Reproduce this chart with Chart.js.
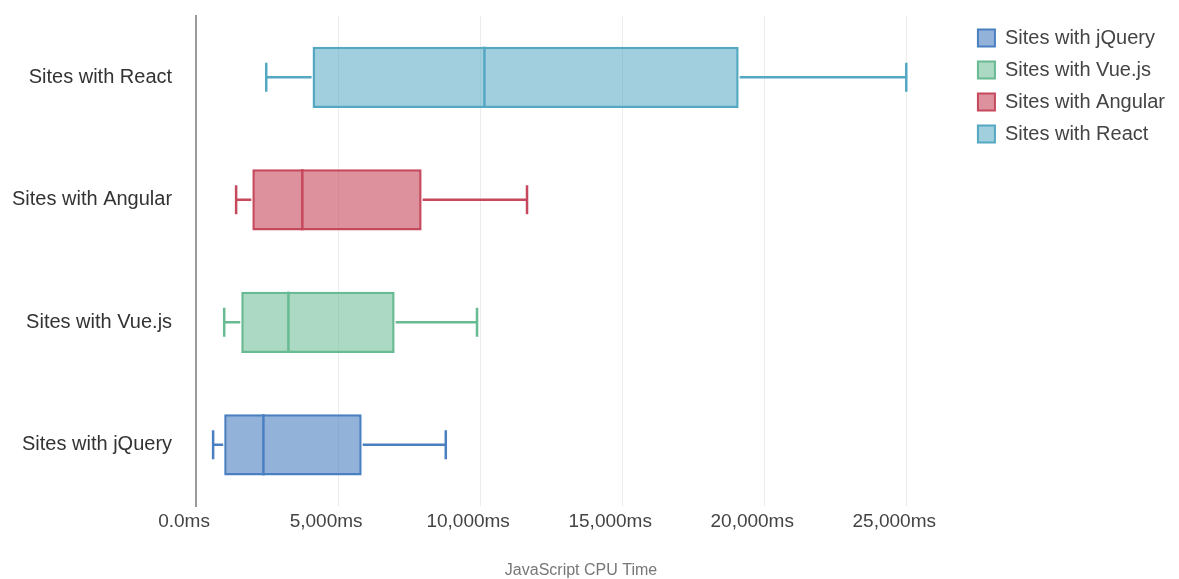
<!DOCTYPE html>
<html>
<head>
<meta charset="utf-8">
<script src="https://cdn.jsdelivr.net/npm/chart.js@4.4.1/dist/chart.umd.min.js"></script>
<style>
  html, body { margin: 0; padding: 0; background: #fff; }
  #wrap { width: 1179px; height: 579px; }
</style>
</head>
<body>
<div id="wrap"><canvas id="c"></canvas></div>
<script>
// Categories (top to bottom)
const categories = ['Sites with React', 'Sites with Angular', 'Sites with Vue.js', 'Sites with jQuery'];
// Series (legend order)
const seriesNames = ['Sites with jQuery', 'Sites with Vue.js', 'Sites with Angular', 'Sites with React'];
// Box statistics in ms: [min, q1, median, q3, max]
const jqueryStats  = [600, 990, 2370, 5830, 8790];
const vueStats     = [990, 1590, 3250, 6990, 9890];
const angularStats = [1410, 1980, 3740, 7940, 11650];
const reactStats   = [2470, 4100, 10150, 19100, 25000];
// X tick values
const xTickValues = [0, 5000, 10000, 15000, 20000, 25000];
const xTitle = 'JavaScript CPU Time';

const allStats = [jqueryStats, vueStats, angularStats, reactStats];
const borderColors = ['rgb(74,127,193)', 'rgb(104,186,146)', 'rgb(198,72,92)', 'rgb(84,168,194)'];
const fillColors = ['rgba(74,127,193,0.6)', 'rgba(104,186,146,0.55)', 'rgba(198,72,92,0.6)', 'rgba(84,168,194,0.55)'];

const datasets = seriesNames.map((name, i) => {
  const s = allStats[i];
  return {
    label: name,
    data: categories.map(c => c === name ? [s[1], s[3]] : null),
    stats: s,
    backgroundColor: fillColors[i],
    borderColor: borderColors[i],
    borderWidth: 2.5,
    borderSkipped: false,
    grouped: false,
    barPercentage: 0.5,
    categoryPercentage: 1.0
  };
});

const boxPlugin = {
  id: 'boxExtras',
  afterDatasetsDraw(chart) {
    const ctx = chart.ctx;
    const xs = chart.scales.x;
    chart.data.datasets.forEach((ds, di) => {
      const meta = chart.getDatasetMeta(di);
      meta.data.forEach((el, idx) => {
        if (ds.data[idx] == null) return;
        const s = ds.stats;
        const props = el.getProps(['x', 'y', 'base', 'height'], true);
        const yc = props.y;
        const h = props.height;
        const pMin = xs.getPixelForValue(s[0]);
        const pQ1 = xs.getPixelForValue(s[1]);
        const pMed = xs.getPixelForValue(s[2]);
        const pQ3 = xs.getPixelForValue(s[3]);
        const pMax = xs.getPixelForValue(s[4]);
        ctx.save();
        ctx.strokeStyle = ds.borderColor;
        ctx.lineCap = 'butt';
        ctx.lineWidth = 2.5;
        ctx.beginPath();
        ctx.moveTo(pMed, yc - h / 2);
        ctx.lineTo(pMed, yc + h / 2);
        ctx.stroke();
        ctx.lineWidth = 2.5;
        ctx.beginPath();
        ctx.moveTo(pMin, yc); ctx.lineTo(pQ1 - 1, yc);
        ctx.moveTo(pQ3 + 1, yc); ctx.lineTo(pMax, yc);
        ctx.stroke();
        const capH = h * 0.47;
        ctx.lineWidth = 2.5;
        ctx.beginPath();
        ctx.moveTo(pMin, yc - capH / 2); ctx.lineTo(pMin, yc + capH / 2);
        ctx.moveTo(pMax, yc - capH / 2); ctx.lineTo(pMax, yc + capH / 2);
        ctx.stroke();
        ctx.restore();
      });
    });
  }
};

const FONT = "'Liberation Sans', Arial, Helvetica, sans-serif";

new Chart(document.getElementById('c'), {
  type: 'bar',
  data: { labels: categories, datasets: datasets },
  plugins: [boxPlugin],
  options: {
    responsive: true,
    maintainAspectRatio: false,
    animation: false,
    indexAxis: 'y',
    layout: { padding: { top: 16, left: 10, right: 4, bottom: 0 } },
    plugins: {
      tooltip: { enabled: false },
      legend: {
        position: 'right',
        align: 'start',
        labels: {
          boxWidth: 17,
          boxHeight: 17,
          padding: 12,
          color: '#444',
          font: { family: FONT, size: 20 },
          generateLabels(chart) {
            return chart.data.datasets.map((ds, i) => ({
              text: ds.label,
              fillStyle: ds.backgroundColor,
              strokeStyle: ds.borderColor,
              lineWidth: 2,
              fontColor: '#444',
              hidden: false,
              datasetIndex: i
            }));
          }
        }
      }
    },
    scales: {
      x: {
        type: 'linear',
        min: 0,
        max: 27100,
        afterBuildTicks(scale) {
          scale.ticks = xTickValues.map(v => ({ value: v }));
        },
        grid: { color: '#ececec', lineWidth: 1, drawTicks: false },
        border: { display: false },
        ticks: {
          color: '#444',
          font: { family: FONT, size: 19 },
          padding: 4,
          labelOffset: -12,
          callback(v) {
            return v === 0 ? '0.0ms' : v.toLocaleString('en-US') + 'ms';
          }
        },
        title: {
          display: true,
          text: xTitle,
          color: '#777',
          font: { family: FONT, size: 16 },
          padding: { top: 24, bottom: -1 }
        }
      },
      y: {
        type: 'category',
        grid: { display: false, drawTicks: true, tickLength: 22 },
        border: { display: true, color: '#9a9a9a', width: 2 },
        ticks: {
          color: '#333',
          font: { family: FONT, size: 20 },
          padding: 2
        }
      }
    }
  }
});
</script>
</body>
</html>
